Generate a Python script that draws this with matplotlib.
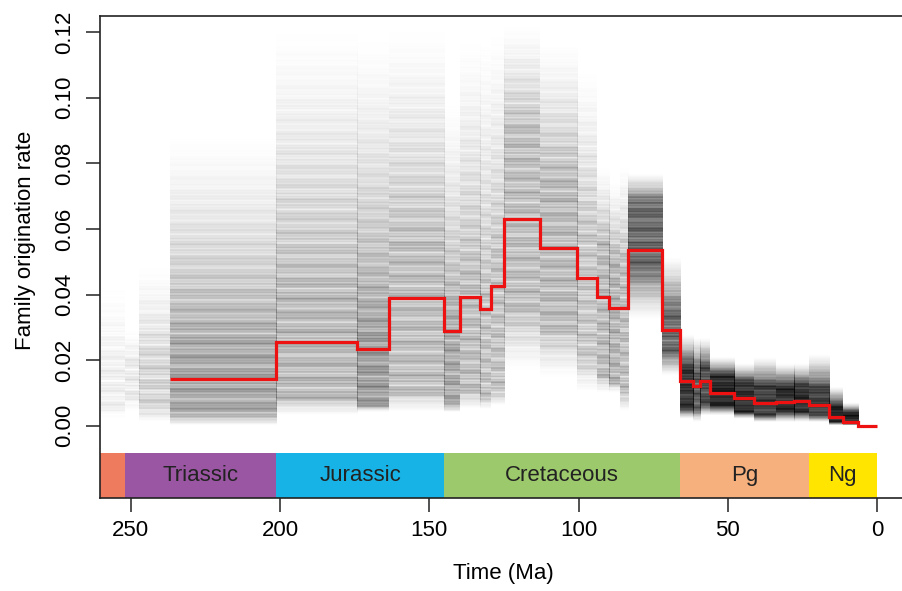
import matplotlib
matplotlib.use("Agg")
import matplotlib.pyplot as plt
from matplotlib.patches import Rectangle
import numpy as np

plt.rcParams['font.family'] = ['Liberation Sans', 'DejaVu Sans']

# interval boundaries (Ma), oldest first
edges = [260.0, 252.0, 247.2, 237.0, 201.3, 174.1, 163.5, 145.0, 139.8, 132.9,
         129.4, 125.0, 113.0, 100.5, 93.9, 89.8, 86.3, 83.6, 72.1, 66.0,
         61.6, 59.2, 56.0, 47.8, 41.2, 33.9, 27.8, 23.0, 16.0, 11.6, 6.3, 0.0]

# posterior median origination rate per interval (red line starts at 237 Ma)
median = [np.nan, np.nan, np.nan, 0.0142, 0.0254, 0.0234, 0.0389, 0.0290, 0.0394, 0.0356,
          0.0426, 0.0630, 0.0541, 0.0452, 0.0394, 0.0360, 0.0360, 0.0536, 0.0292, 0.0137,
          0.0122, 0.0137, 0.0100, 0.0084, 0.0071, 0.0073, 0.0077, 0.0064, 0.0028, 0.0013,
          0.0000]

# spread of posterior samples per interval
post_lo = [0.002, 0.004, 0.001, 0.000, 0.003, 0.004, 0.004, 0.004, 0.005, 0.005,
           0.006, 0.016, 0.014, 0.010, 0.010, 0.010, 0.004, 0.032, 0.015, 0.002,
           0.001, 0.003, 0.003, 0.002, 0.001, 0.001, 0.001, 0.001, 0.000, 0.000,
           0.000]
core_lo = [0.005, 0.008, 0.005, 0.003, 0.008, 0.006, 0.010, 0.006, 0.010, 0.008,
           0.010, 0.035, 0.030, 0.020, 0.015, 0.013, 0.010, 0.048, 0.022, 0.005,
           0.005, 0.006, 0.006, 0.004, 0.003, 0.004, 0.004, 0.003, 0.001, 0.0005,
           0.000]
core_hi = [0.018, 0.020, 0.020, 0.024, 0.040, 0.025, 0.055, 0.030, 0.045, 0.040,
           0.050, 0.090, 0.075, 0.060, 0.055, 0.050, 0.050, 0.068, 0.035, 0.018,
           0.017, 0.018, 0.015, 0.013, 0.012, 0.012, 0.012, 0.011, 0.006, 0.004,
           0.001]
post_hi = [0.045, 0.030, 0.050, 0.090, 0.123, 0.120, 0.123, 0.100, 0.120, 0.120,
           0.122, 0.123, 0.118, 0.110, 0.080, 0.075, 0.080, 0.077, 0.052, 0.028,
           0.027, 0.027, 0.021, 0.019, 0.021, 0.019, 0.019, 0.022, 0.012, 0.007,
           0.002]
shade = [0.12, 0.15, 0.28, 0.50, 0.42, 0.55, 0.40, 0.50, 0.40, 0.38,
         0.38, 0.40, 0.42, 0.35, 0.42, 0.45, 0.40, 0.75, 0.75, 0.92,
         0.80, 0.85, 0.97, 0.95, 0.90, 0.95, 0.95, 0.90, 0.97, 0.97,
         0.0]

# geological periods for the time scale bar
periods = ['', 'Triassic', 'Jurassic', 'Cretaceous', 'Pg', 'Ng']
period_start = [270.0, 252.0, 201.3, 145.0, 66.0, 23.0]
period_end = [252.0, 201.3, 145.0, 66.0, 23.0, 0.0]
period_colors = ['#EE7B5E', '#9A56A2', '#18B3E6', '#9CC96B', '#F6B07D', '#FFE500']

xticks = [250, 200, 150, 100, 50, 0]
yticks = [0.00, 0.02, 0.04, 0.06, 0.08, 0.10, 0.12]

x_range = (260.3, -10.0)
y_range = (-0.02185, 0.1250)
bar_top = -0.0083

fig = plt.figure(figsize=(9.02, 5.91), dpi=100)
ax = fig.add_axes([0.1109, 0.1582, 0.8947, 0.8152])

# grey cloud of posterior samples, one column per interval
nrows = 420
rows = np.linspace(0, 0.125, nrows)
j = np.arange(nrows)
for i in range(len(edges) - 1):
    if shade[i] <= 0:
        continue
    prof = np.interp(rows, [post_lo[i], core_lo[i], core_hi[i], post_hi[i]], [0, 1, 1, 0],
                     left=0, right=0)
    prof = prof ** 1.4
    # uneven horizontal streaks, weaker where the cloud is dense
    streak = (np.sin(j * 0.93 + i * 1.7) + np.sin(j * 2.17 + i * 0.61)
              + np.sin(j * 0.377 + i * 2.3)) / 3
    amp = 0.12 + 0.45 * (1 - shade[i])
    prof = prof * (1 - amp + amp * streak)
    img = np.zeros((nrows, 1, 4))
    img[:, 0, 3] = np.clip(shade[i] * prof, 0, 1)
    ax.imshow(img, extent=(edges[i], edges[i + 1], 0, 0.125), origin='lower',
              aspect='auto', interpolation='antialiased', zorder=1)

# median rate as a step line
e = np.array(edges[3:])[::-1]
m = np.array(median[3:])[::-1]
ax.stairs(m, e, baseline=None, color='#EE1111', lw=2.3, zorder=3)

# time scale bar
for name, s, t, c in zip(periods, period_start, period_end, period_colors):
    ax.add_patch(Rectangle((t, y_range[0]), s - t, bar_top - y_range[0],
                           facecolor=c, edgecolor='none', zorder=2))
    if name:
        ax.text((s + t) / 2, (y_range[0] + bar_top) / 2, name, ha='center', va='center',
                fontsize=16, color='#222222', zorder=4)

ax.set_xlim(*x_range)
ax.set_ylim(*y_range)
ax.set_xticks(xticks)
ax.set_yticks(yticks)
ax.set_yticklabels(['%.2f' % v for v in yticks], rotation=90, va='center')
ax.tick_params(direction='out', length=10, width=1.1, labelsize=16, color='#222222')
ax.tick_params(axis='x', pad=6)
ax.tick_params(axis='y', pad=8)
for sp in ax.spines.values():
    sp.set_linewidth(1.2)
    sp.set_color('#222222')

fig.text(503.5 / 902, 1 - 573 / 591, 'Time (Ma)', ha='center', va='center', fontsize=16)
fig.text(26 / 902, 1 - 240 / 591, 'Family origination rate', ha='center', va='center',
         rotation=90, fontsize=16)

fig.savefig('out.png', dpi=100)
